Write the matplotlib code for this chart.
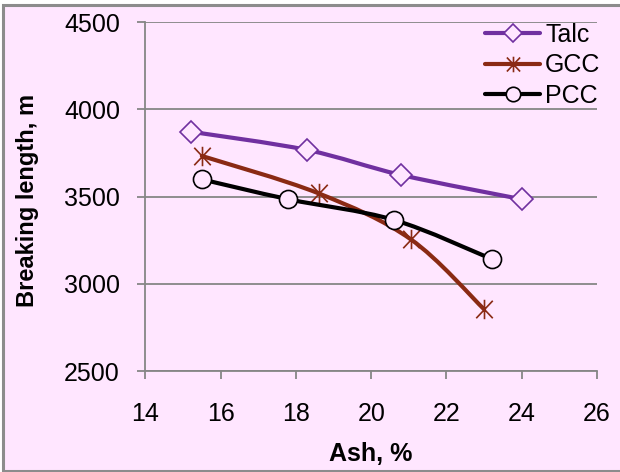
import numpy as np
import matplotlib
matplotlib.use("Agg")
import matplotlib.pyplot as plt
from matplotlib.path import Path
from matplotlib.patches import PathPatch, Rectangle
from matplotlib.lines import Line2D

plt.rcParams['font.family'] = ['Liberation Sans', 'DejaVu Sans']

# ---- data ----
series_names = ["Talc", "GCC", "PCC"]
talc_x = [15.2, 18.3, 20.8, 24.0]
talc_y = [3872, 3767, 3624, 3485]
gcc_x = [15.5, 18.6, 21.05, 23.0]
gcc_y = [3733, 3519, 3256, 2855]
pcc_x = [15.5, 17.8, 20.6, 23.2]
pcc_y = [3599, 3485, 3367, 3143]
x_ticks = [14, 16, 18, 20, 22, 24, 26]
y_ticks = [2500, 3000, 3500, 4000, 4500]
x_label = "Ash, %"
y_label = "Breaking length, m"

W, H = 620, 472
BG = "#FFE6FF"
GRID = "#868686"
colors = ["#7030A0", "#8A2A14", "#000000"]

star = Path([(0, -1), (0, 1), (-0.85, -0.9), (0.85, 0.9), (-0.85, 0.9), (0.85, -0.9)],
            [Path.MOVETO, Path.LINETO, Path.MOVETO, Path.LINETO, Path.MOVETO, Path.LINETO])
markers = ["D", star, "o"]
msizes = [11, 14, 13]

fig = plt.figure(figsize=(W / 100, H / 100), dpi=100)
fig.patch.set_facecolor("white")
bg_rect = Rectangle((2.5 / W, 1 / H), 1.2, 1 - 5.5 / H, transform=fig.transFigure,
                    facecolor=BG, edgecolor="#8C8C8C", linewidth=2.2, zorder=-10)
fig.patches.append(bg_rect)

ax = fig.add_axes([145.4 / W, 1 - 371.3 / H, (597 - 145.4) / W, (371.3 - 22) / H])
ax.set_zorder(5)
ax.patch.set_visible(False)
ax.set_xlim(14, 26)
ax.set_ylim(2500, 4500)
ax.set_xticks(x_ticks)
ax.set_yticks(y_ticks)
ax.set_xticklabels([str(v) for v in x_ticks])
ax.set_yticklabels([str(v) for v in y_ticks])
for s in ["top", "right"]:
    ax.spines[s].set_visible(False)
for s in ["left", "bottom"]:
    ax.spines[s].set_color(GRID)
    ax.spines[s].set_linewidth(1.3)
ax.tick_params(axis="both", direction="out", length=5.8, width=1.3, color=GRID,
               labelsize=18, labelcolor="black")
ax.tick_params(axis="x", pad=16)
ax.tick_params(axis="y", pad=12.5)
ax.yaxis.grid(True, color=GRID, linewidth=1.3)
ax.set_axisbelow(True)


def smooth_path(xs, ys):
    pts = np.column_stack([xs, ys]).astype(float)
    n = len(pts)
    verts = [pts[0]]
    codes = [Path.MOVETO]
    for i in range(n - 1):
        p0 = pts[i - 1] if i > 0 else pts[i]
        p1 = pts[i]
        p2 = pts[i + 1]
        p3 = pts[i + 2] if i + 2 < n else pts[i + 1]
        c1 = p1 + (p2 - p0) / 6.0
        c2 = p2 - (p3 - p1) / 6.0
        verts += [c1, c2, p2]
        codes += [Path.CURVE4] * 3
    return Path(verts, codes)


handles = []
all_x = [talc_x, gcc_x, pcc_x]
all_y = [talc_y, gcc_y, pcc_y]
for k, (name, xs, ys) in enumerate(zip(series_names, all_x, all_y)):
    patch = PathPatch(smooth_path(xs, ys), facecolor="none", edgecolor=colors[k],
                      linewidth=3.0, capstyle="round", joinstyle="round", zorder=3 + 2 * k)
    ax.add_patch(patch)
    ax.plot(xs, ys, linestyle="none", marker=markers[k], markersize=msizes[k],
            markerfacecolor=BG if k != 1 else colors[k], markeredgecolor=colors[k],
            markeredgewidth=1.2, zorder=4 + 2 * k, clip_on=False)
    handles.append(Line2D([], [], color=colors[k], linewidth=3.0, marker=markers[k],
                          markersize=msizes[k] * 0.8,
                          markerfacecolor=BG if k != 1 else colors[k],
                          markeredgecolor=colors[k], markeredgewidth=1.2,
                          solid_capstyle="round"))

leg = fig.legend(handles, series_names, loc="upper left",
                 bbox_to_anchor=(485 / W, 1 - 22.6 / H), bbox_transform=fig.transFigure,
                 frameon=False, fontsize=18, handlelength=2.2, handletextpad=0.2,
                 labelspacing=0.27, borderpad=0, borderaxespad=0, numpoints=1)
leg.set_zorder(20)

fig.text(371 / W, 1 - 454 / H, x_label, ha="center", va="center", fontsize=18,
         fontweight="bold")
fig.text(28 / W, 1 - 200 / H, y_label, ha="center", va="center", fontsize=17,
         fontweight="bold", rotation=90)

fig.savefig("out.png", dpi=100, facecolor=fig.get_facecolor())
